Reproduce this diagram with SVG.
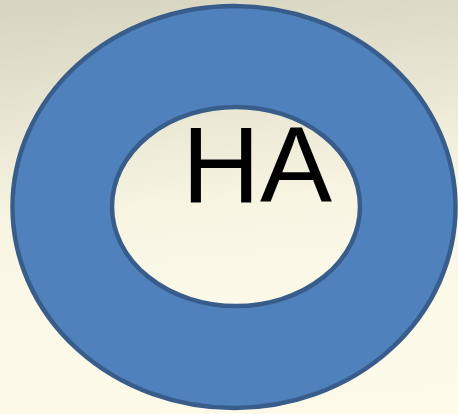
<svg xmlns="http://www.w3.org/2000/svg" width="458" height="414" viewBox="0 0 458 414">
<defs>
<linearGradient id="bg" x1="0.3" y1="0" x2="0.4" y2="1">
<stop offset="0" stop-color="#d8d5c3"/>
<stop offset="0.5" stop-color="#f7f4e2"/>
<stop offset="0.75" stop-color="#fcf9e9"/>
<stop offset="1" stop-color="#fdfaea"/>
</linearGradient>
<style>
.donut{fill:#4f81bd;stroke:#385d8a;stroke-width:4.5;fill-rule:evenodd}
.lbl{font-family:"Liberation Sans",Arial,sans-serif;font-size:108px;fill:#000}
</style>
</defs>
<rect width="458" height="414" fill="url(#bg)"/>
<g id="donut">
<path class="donut" d="M12.5,207 A221.5,201 0 1,0 455.5,207 A221.5,201 0 1,0 12.5,207 Z M112,206.5 A124,99.5 0 1,1 360,206.5 A124,99.5 0 1,1 112,206.5 Z"/>
</g>
<g id="label">
<text class="lbl" x="257" y="202" text-anchor="middle">HA</text>
</g>
</svg>
